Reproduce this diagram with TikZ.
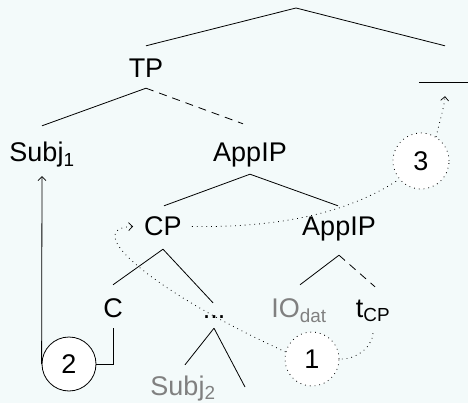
\documentclass[tikz,border=0pt]{standalone}
\usepackage{fontspec}
\setmainfont{Liberation Sans}
\usetikzlibrary{arrows.meta}
\definecolor{bgc}{RGB}{243,250,250}
\definecolor{txtgray}{RGB}{128,128,128}
\begin{document}
\begin{tikzpicture}[x=1pt,y=-1pt,
  lbl/.style={inner sep=0pt, anchor=base, text height=19pt, text depth=0pt, font=\fontsize{27}{32}\selectfont},
  treeline/.style={line width=0.8pt},
  treedash/.style={line width=0.8pt, dash pattern=on 8pt off 6pt},
  mv/.style={line width=0.8pt, dash pattern=on 0.8pt off 4pt},
  mvtip/.style={-{Straight Barb[length=4pt,width=8pt,line width=0.7pt]}},
  numcirc/.style={circle, draw, line width=0.8pt, minimum size=54pt, inner sep=0pt, fill=white, font=\fontsize{27}{32}\selectfont},
]
\fill[bgc] (0,0) rectangle (468,403);
\useasboundingbox (0,0) rectangle (468,403);

% tree nodes
\coordinate (root) at (296,8);
\node[lbl] (tp) at (146,78) {TP};
\node[inner sep=0pt, minimum width=52pt, minimum height=0pt] (gap) at (445,82) {};
\node[lbl] (subj1) at (42,162) {Subj\textsubscript{1}};
\node[lbl] (appip) at (250,162) {AppIP};
\node[lbl] (cp) at (163,236) {CP};
\node[lbl] (appip2) at (339,236) {AppIP};
\node[lbl] (c) at (113,317) {C};
\node[lbl] (dots) at (214,318) {...};
\node[lbl, text=txtgray] (io) at (299,317) {IO\textsubscript{dat}};
\node[lbl] (tcp) at (373,317) {t\textsubscript{CP}};
\node[lbl, text=txtgray] (subj2) at (183,395) {Subj\textsubscript{2}};
\coordinate (leaf) at (245,387);

% numbered circles
\node[numcirc] (c2) at (69,364) {2};
\node[numcirc, mv] (c1) at (312,359) {1};
\node[numcirc, mv, minimum size=56pt] (c3) at (421,161) {3};

% tree edges
\draw[treeline] (root) -- ([yshift=13pt]tp.north);
\draw[treeline] (root) -- ([yshift=36pt]gap.north);
\draw[treeline] (gap.west) -- (gap.east);
\draw[treeline] ([yshift=-10pt]tp.south) -- ([yshift=17pt]subj1.north);
\draw[treedash] ([yshift=-10pt]tp.south) -- ([xshift=-7pt,yshift=19pt]appip.north);
\draw[treeline] ([yshift=-12pt]appip.south) -- ([xshift=1pt,yshift=11pt]cp.north);
\draw[treeline] ([yshift=-12pt]appip.south) -- ([xshift=-1pt,yshift=11pt]appip2.north);
\draw[treeline] ([yshift=-13pt]cp.south) -- ([yshift=13pt]c.north);
\draw[treeline] ([yshift=-13pt]cp.south) -- ([xshift=-1pt,yshift=-4pt]dots.north);
\draw[treeline] ([yshift=-19pt]appip2.south) -- ([xshift=1pt,yshift=13pt]io.north);
\draw[treedash] ([yshift=-19pt]appip2.south) -- ([xshift=2pt,yshift=11pt]tcp.north);
\draw[treeline] ([yshift=-10pt]dots.south) -- ([xshift=2pt,yshift=11pt]subj2.north);
\draw[treeline] ([yshift=-10pt]dots.south) -- (leaf);

% movement connectors
\draw[treeline] ([yshift=-11pt]c.south) |- (c2.east);
\draw[treeline, mvtip] (c2.west) -- ([yshift=-14pt]subj1.south);
\draw[mv] ([yshift=-16pt]tcp.south) .. controls (372,348) and (355,360) .. (c1.east);
\draw[mv, mvtip] (c1.165) .. controls (150,290) and (80,228) .. ([xshift=-11pt]cp.west);
\draw[mv] ([xshift=10pt]cp.east) .. controls (300,228) and (360,205) .. (c3.220);
\draw[mv, mvtip] (c3.58) .. controls (440,120) and (444,108) .. ([yshift=-14pt]gap.south);
\end{tikzpicture}
\end{document}
